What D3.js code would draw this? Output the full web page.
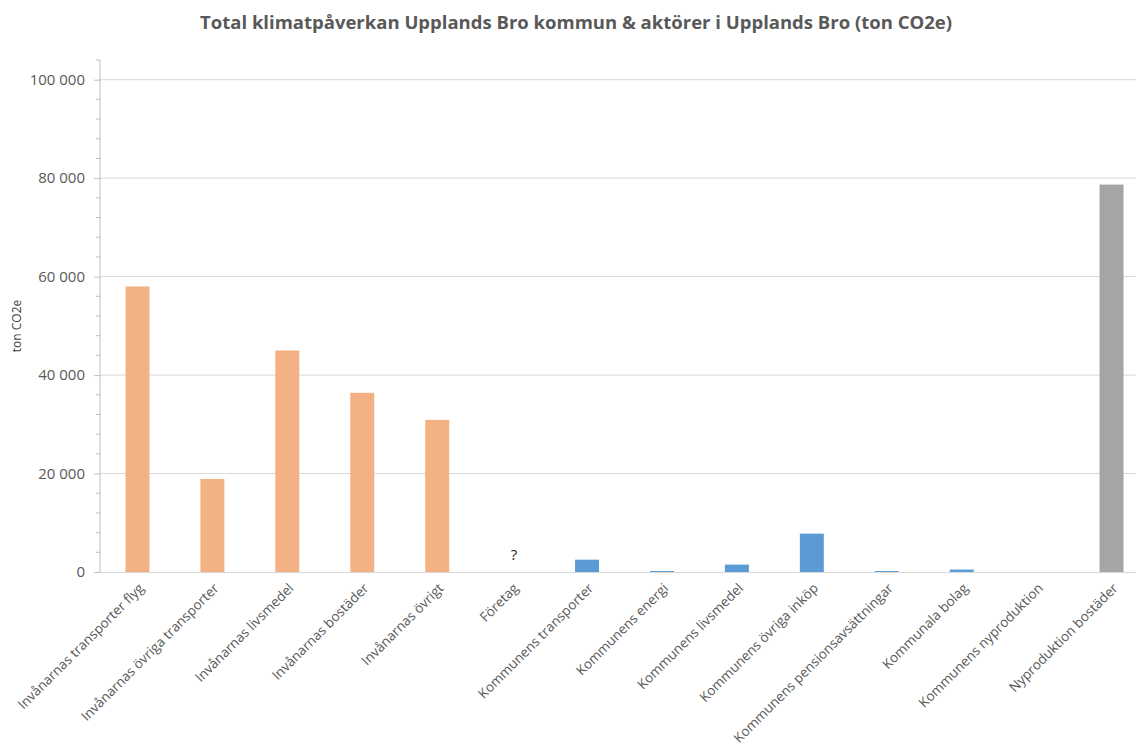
<!DOCTYPE html>
<html>
<head>
<meta charset="utf-8">
<script src="https://cdn.jsdelivr.net/npm/d3@7"></script>
<style>
  body { margin: 0; background: #fff; overflow: hidden; }
  svg { display: block; }
  text { font-family: "Open Sans", "Liberation Sans", sans-serif; }
</style>
</head>
<body>
<div id="chart"></div>
<script>
const categories = [
    "Invånarnas transporter flyg",
    "Invånarnas övriga transporter",
    "Invånarnas livsmedel",
    "Invånarnas bostäder",
    "Invånarnas övrigt",
    "Företag",
    "Kommunens transporter",
    "Kommunens energi",
    "Kommunens livsmedel",
    "Kommunens övriga inköp",
    "Kommunens pensionsavsättningar",
    "Kommunala bolag",
    "Kommunens nyproduktion",
    "Nyproduktion bostäder"
];
const values = [58000, 18900, 45000, 36400, 30900, 0, 2500, 200, 1500, 7800, 200, 500, 0, 78700];
const groups = ["inv", "inv", "inv", "inv", "inv", "ftg", "kom", "kom", "kom", "kom", "kom", "kom", "kom", "nyb"];
const barLabels = {"Företag": "?"};
const yTicks = [0, 20000, 40000, 60000, 80000, 100000];

const width = 1136, height = 751;
const margin = {top: 60, right: -13, bottom: 179, left: 100};
const innerWidth = width - margin.left - margin.right;
const innerHeight = height - margin.top - margin.bottom;

const svg = d3.select("#chart")
    .append("svg")
    .attr("width", width)
    .attr("height", height);

const g = svg.append("g")
    .attr("transform", `translate(${margin.left},${margin.top})`);

const color = d3.scaleOrdinal()
    .domain(["inv", "ftg", "kom", "nyb"])
    .range(["#F4B183", "#F4B183", "#5B9BD5", "#A5A5A5"]);

const x = d3.scaleBand()
    .domain(categories)
    .range([0, innerWidth])
    .paddingInner(0.68)
    .paddingOuter(0.34);

const y = d3.scaleLinear()
    .domain([0, 104000])
    .range([innerHeight, 0]);

const fmt = d => d === 0 ? "0" : d3.format(",")(d).replace(/,/g, " ");

// gridlines
g.append("g")
    .selectAll("line")
    .data(yTicks.slice(1))
    .enter()
    .append("line")
    .attr("x1", 0)
    .attr("x2", innerWidth)
    .attr("y1", d => y(d))
    .attr("y2", d => y(d))
    .attr("stroke", "#d9d9d9")
    .attr("stroke-width", 1);

// minor ticks
g.append("g")
    .selectAll("line")
    .data(d3.range(0, 104001, 4000).filter(d => d % 20000 !== 0))
    .enter()
    .append("line")
    .attr("x1", -4)
    .attr("x2", 0)
    .attr("y1", d => y(d))
    .attr("y2", d => y(d))
    .attr("stroke", "#bfbfbf");

// y axis
const yAxis = g.append("g")
    .call(d3.axisLeft(y).tickValues(yTicks).tickSize(6).tickPadding(9).tickFormat(fmt));
yAxis.select(".domain").attr("stroke", "#bfbfbf").attr("d", `M0,${innerHeight}V0`);
yAxis.selectAll(".tick line").attr("stroke", "#bfbfbf");
yAxis.selectAll("text")
    .style("font-size", "15px")
    .style("fill", "#595959");

// bars
g.selectAll(".bar")
    .data(categories)
    .enter()
    .append("rect")
    .attr("class", "bar")
    .attr("x", d => x(d))
    .attr("width", x.bandwidth())
    .attr("y", (d, i) => y(values[i]))
    .attr("height", (d, i) => innerHeight - y(values[i]))
    .attr("fill", (d, i) => color(groups[i]));

// bar labels
g.selectAll(".bar-label")
    .data(categories.filter(d => barLabels[d]))
    .enter()
    .append("text")
    .attr("class", "bar-label")
    .attr("x", d => x(d) + x.bandwidth() / 2 + 2)
    .attr("y", d => y(values[categories.indexOf(d)]) - 12)
    .attr("text-anchor", "middle")
    .style("font-size", "15px")
    .style("fill", "#222")
    .text(d => barLabels[d]);

// x axis
const xAxis = g.append("g")
    .attr("transform", `translate(0,${innerHeight})`)
    .call(d3.axisBottom(x).tickSize(0).tickPadding(0));
xAxis.select(".domain").attr("stroke", "#d9d9d9");
xAxis.selectAll("text")
    .attr("text-anchor", "end")
    .attr("dx", "-2px")
    .attr("dy", "0.9em")
    .attr("transform", "translate(0,7) rotate(-45)")
    .style("font-size", "13.5px")
    .style("fill", "#595959");

// y axis title
svg.append("text")
    .attr("transform", `translate(21,${margin.top + innerHeight / 2 + 10}) rotate(-90)`)
    .attr("text-anchor", "middle")
    .style("font-size", "12px")
    .style("fill", "#404040")
    .text("ton CO2e");

// chart title
svg.append("text")
    .attr("x", 576)
    .attr("y", 29)
    .attr("text-anchor", "middle")
    .style("font-size", "18.5px")
    .style("font-weight", "bold")
    .style("fill", "#595959")
    .text("Total klimatpåverkan Upplands Bro kommun & aktörer i Upplands Bro (ton CO2e)");
</script>
</body>
</html>
